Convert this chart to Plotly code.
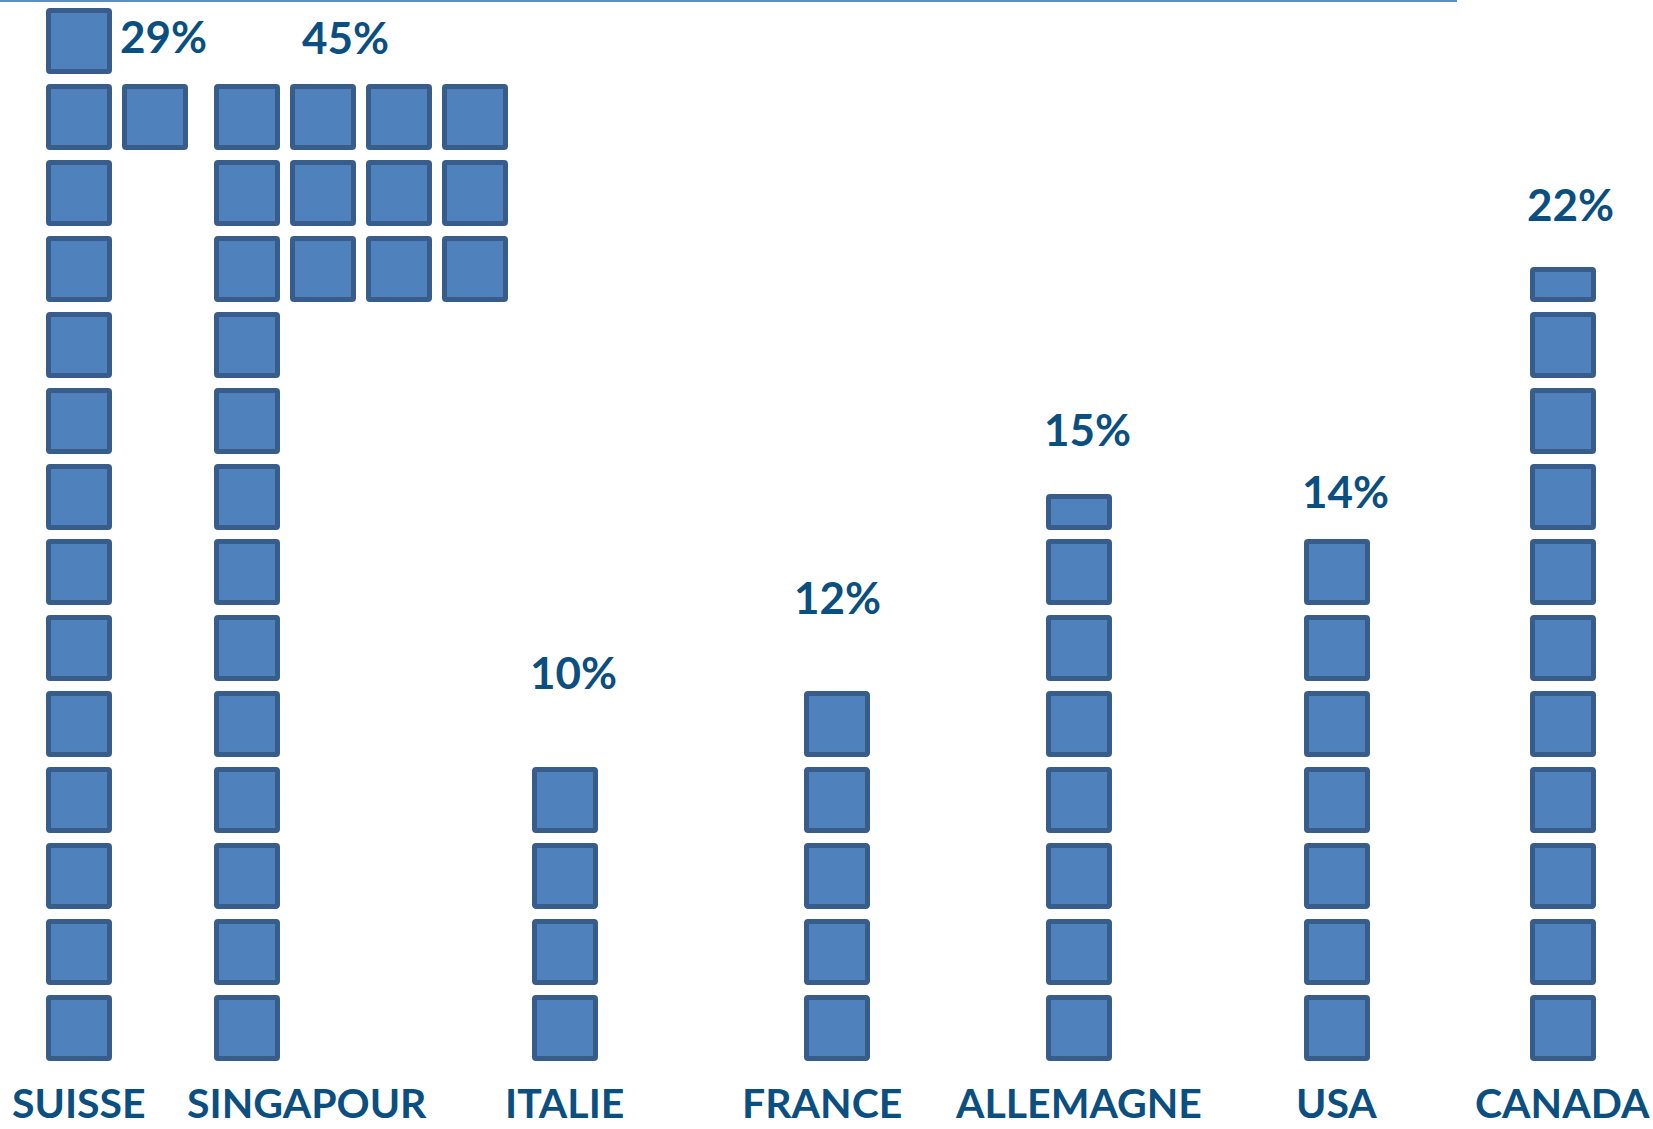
import plotly.graph_objects as go

# ---------------- data ----------------
countries = ["SUISSE", "SINGAPOUR", "ITALIE", "FRANCE", "ALLEMAGNE", "USA", "CANADA"]
pct_labels = ["29%", "45%", "10%", "12%", "15%", "14%", "22%"]

# number of squares in each row of the pictogram, from the bottom row up
# (0.5 = half square)
suisse_rows = [1, 1, 1, 1, 1, 1, 1, 1, 1, 1, 1, 1, 2, 1]
singapour_rows = [1, 1, 1, 1, 1, 1, 1, 1, 1, 1, 4, 4, 4]
italie_rows = [1, 1, 1, 1]
france_rows = [1, 1, 1, 1, 1]
allemagne_rows = [1, 1, 1, 1, 1, 1, 1, 0.5]
usa_rows = [1, 1, 1, 1, 1, 1, 1]
canada_rows = [1, 1, 1, 1, 1, 1, 1, 1, 1, 1, 0.5]

all_rows = [suisse_rows, singapour_rows, italie_rows, france_rows,
            allemagne_rows, usa_rows, canada_rows]

# ---------------- layout settings ----------------
W, H = 1653, 1129
col_x = [79, 247, 565, 837.5, 1079.5, 1337.5, 1563]   # centre of first column of squares
sub_pitch = 76          # horizontal pitch of squares (px)
sq = 0.804              # square height in row units
sq_w = 61               # square width (px, without border)
pct_dx = [84, 98.5, 8, 0, 7.5, 7.5, 7]
pct_dy = [-0.324, 0.666, 1.292, 1.276, 0.898, 0.676, 0.868]
name_dx = [0, 59.5, -0.5, -16, -1.5, -1, -1]
name_y = -0.58
y_range = [-0.9295, 13.955]

FILL = "#4F81BD"
EDGE = "#385D8A"
TXT = "#0B4F80"

# build squares
xs, bases, heights = [], [], []
for cx, rows in zip(col_x, all_rows):
    for r, n in enumerate(rows):
        if n >= 1:
            for k in range(int(n)):
                xs.append(cx + k * sub_pitch)
                bases.append(r)
                heights.append(sq)
        else:
            xs.append(cx)
            bases.append(r)
            heights.append(sq * n)

fig = go.Figure()
fig.add_trace(go.Bar(
    x=xs, y=heights, base=bases, width=sq_w,
    marker=dict(color=FILL, line=dict(color=EDGE, width=5), cornerradius=2),
    hoverinfo="skip", showlegend=False,
))

# labels
for i, (name, lab, rows) in enumerate(zip(countries, pct_labels, all_rows)):
    top = (len(rows) - 1) + sq * min(rows[-1], 1)
    fig.add_annotation(x=col_x[i] + pct_dx[i], y=top + pct_dy[i], text=lab,
                       showarrow=False, xanchor="center", yanchor="middle",
                       font=dict(family="Lato", size=44, color=TXT, weight=700))
    fig.add_annotation(x=col_x[i] + name_dx[i], y=name_y, text=name,
                       showarrow=False, xanchor="center", yanchor="middle",
                       font=dict(family="Lato", size=41, color=TXT, weight=700))

# thin top rule
fig.add_shape(type="line", xref="x", yref="paper", x0=0, x1=1457,
              y0=1 - 1 / H, y1=1 - 1 / H, line=dict(color="#5F8FBC", width=2))

fig.update_layout(
    width=W, height=H,
    margin=dict(l=0, r=0, t=0, b=0),
    paper_bgcolor="white", plot_bgcolor="white",
    xaxis=dict(range=[0, W], visible=False, fixedrange=True),
    yaxis=dict(range=y_range, visible=False, fixedrange=True),
    bargap=0,
)

fig.write_html("out.html", config={"displayModeBar": False},
               post_script="document.body.style.margin='0';document.body.style.overflow='hidden';")
